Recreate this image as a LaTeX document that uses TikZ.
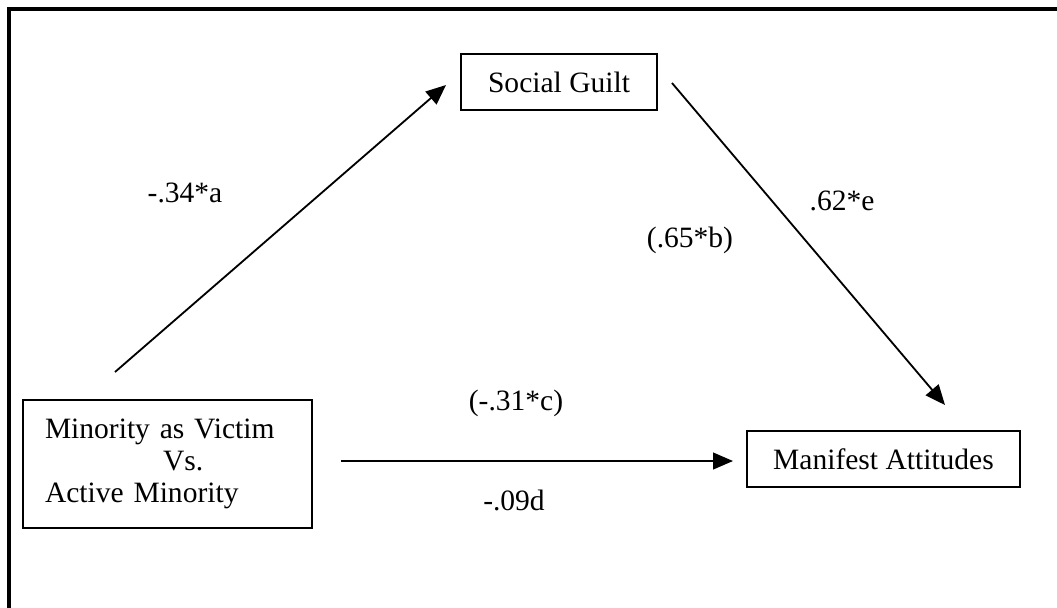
\documentclass[tikz,border=0pt]{standalone}
\usepackage{fontspec}
\setmainfont{Liberation Serif}
\usepackage{tikz}
\usetikzlibrary{arrows.meta}

\begin{document}
\begin{tikzpicture}[
    every node/.style={font=\fontsize{21}{22.7}\selectfont},
    var/.style={draw, line width=1.3pt, minimum height=1.4cm},
    path/.style={line width=1.3pt, -{Triangle[length=0.5cm, width=0.42cm]}},
  ]
  \useasboundingbox (0,0) rectangle (26.425,-15.175);
  \draw[line width=2.2pt] (0.225,-15.4) -- (0.225,-0.225) -- (26.6,-0.225);

  \node[var, minimum width=4.9cm] (guilt) at (13.975,-2.05) {Social Guilt};
  \node[var, minimum width=7.225cm, minimum height=3.2cm, inner xsep=0.55cm,
        text width=6.125cm, align=left] (victim) at (4.1875,-11.6)
    {Minority as Victim\\\hspace*{2.95cm}Vs.\\Active Minority};
  \node[var, minimum width=6.825cm] (attitudes) at (22.0875,-11.475) {Manifest Attitudes};

  \coordinate (a1) at (2.875,-9.3);
  \coordinate (a2) at (11.15,-2.125);
  \coordinate (b1) at (16.8,-2.075);
  \coordinate (b2) at (23.625,-10.125);
  \coordinate (c1) at (8.525,-11.525);
  \coordinate (c2) at (18.325,-11.525);

  \draw[path] (a1) -- (a2);
  \draw[path] (b1) -- (b2);
  \draw[path] (c1) -- (c2);

  \node (la) at (4.625,-4.825) {-.34*a};
  \node (le) at (21.05,-5.025) {.62*e};
  \node (lb) at (17.25,-6.0) {(.65*b)};
  \node (lc) at (12.9,-10.075) {(-.31*c)};
  \node (ld) at (12.85,-12.5) {-.09d};
\end{tikzpicture}
\end{document}
